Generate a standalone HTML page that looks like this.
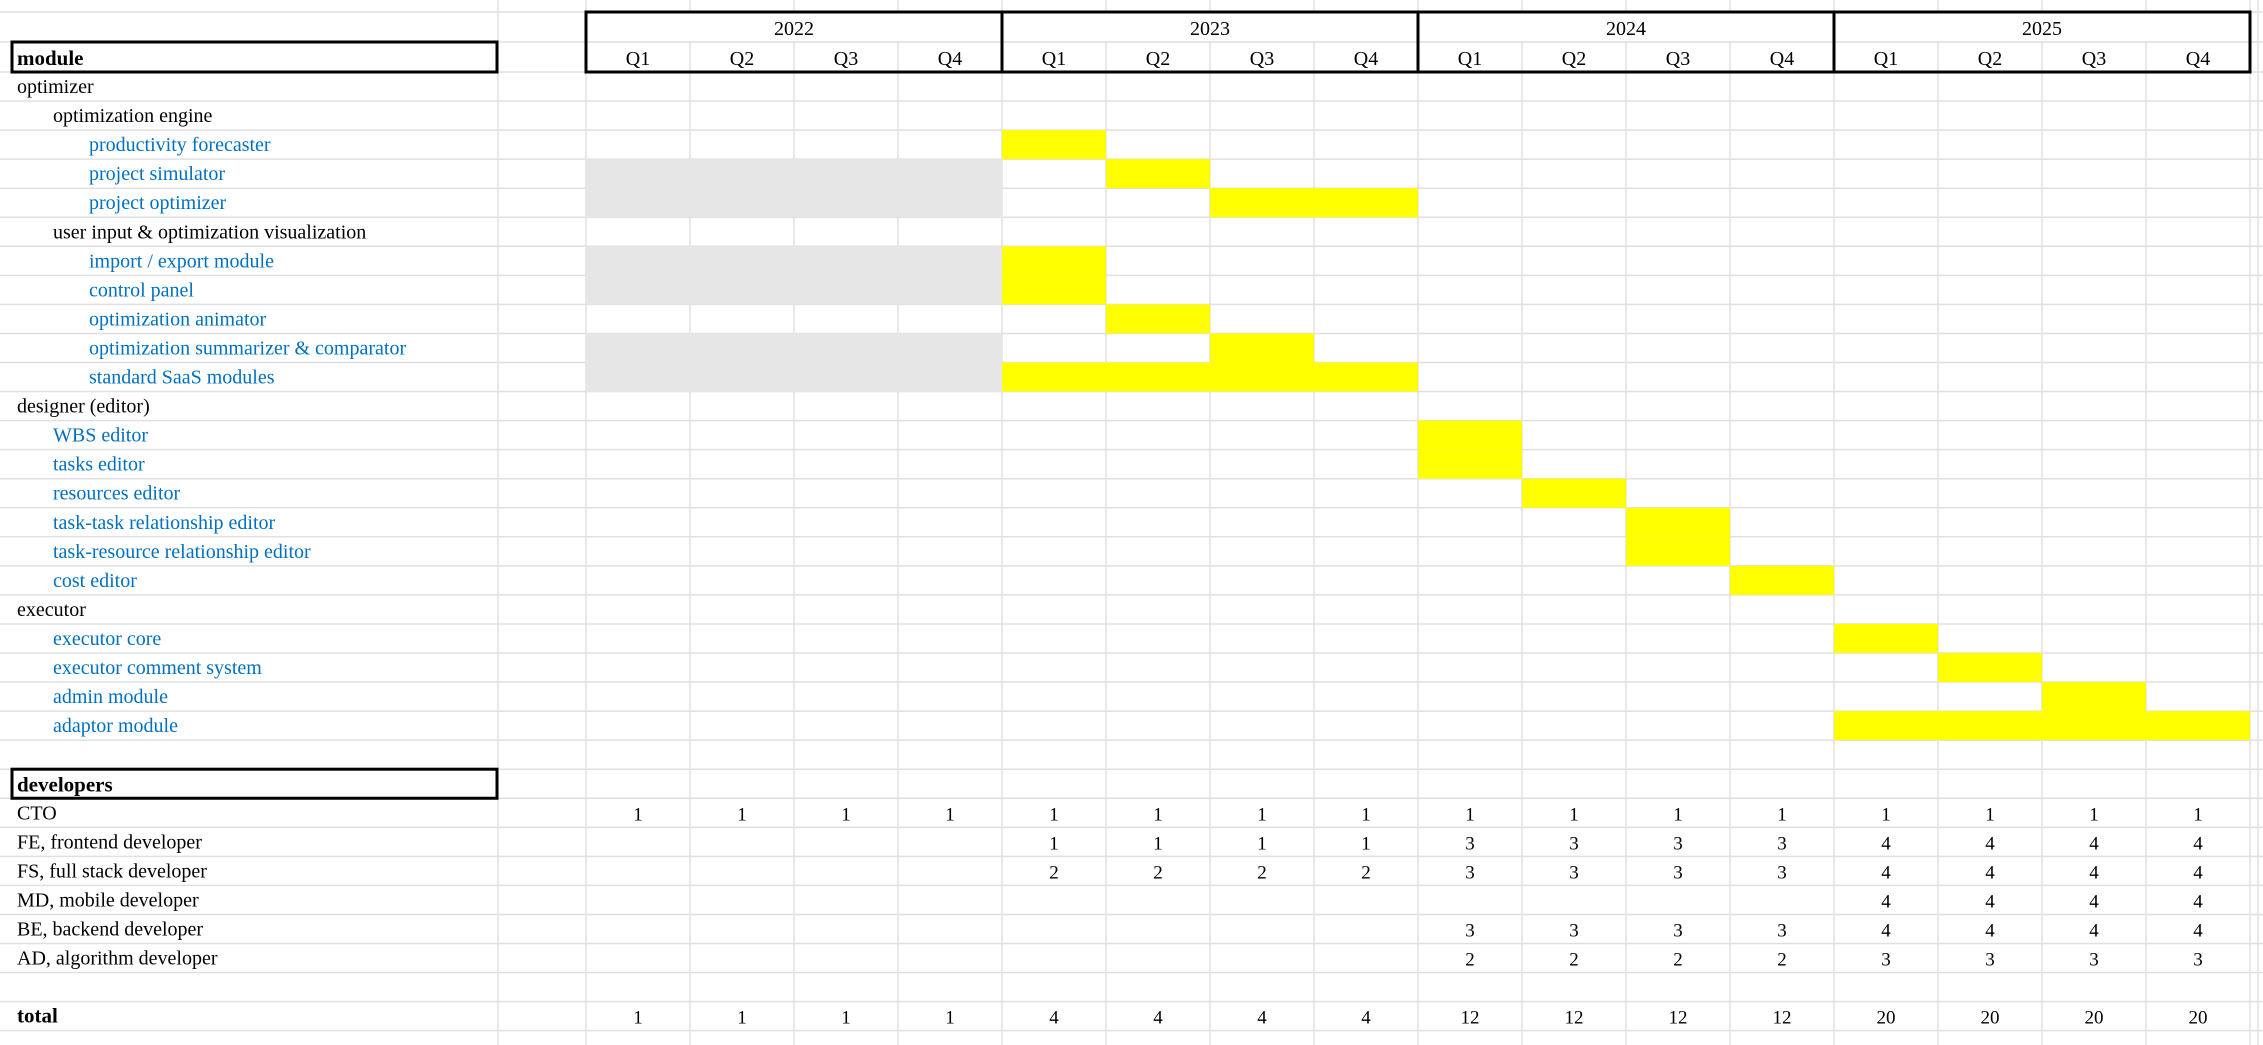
<!DOCTYPE html>
<html><head><meta charset="utf-8">
<style>
html,body{margin:0;padding:0;background:#fff;}
svg{display:block;font-family:"Liberation Serif",serif;}
</style></head>
<body>
<svg id="sheet" width="2263" height="1045" viewBox="0 0 2263 1045" xmlns="http://www.w3.org/2000/svg"></svg>
<script>
const years = ["2022","2023","2024","2025"];
const quarters = ["Q1","Q2","Q3","Q4"];
const moduleLabels = ["optimizer","optimization engine","productivity forecaster","project simulator","project optimizer","user input & optimization visualization","import / export module","control panel","optimization animator","optimization summarizer & comparator","standard SaaS modules","designer (editor)","WBS editor","tasks editor","resources editor","task-task relationship editor","task-resource relationship editor","cost editor","executor","executor core","executor comment system","admin module","adaptor module"];
const moduleLevels = [0,1,2,2,2,1,2,2,2,2,2,0,1,1,1,1,1,1,0,1,1,1,1];
const moduleStart = [null,null,4,5,6,null,4,4,5,6,4,null,8,8,9,10,10,11,null,12,13,14,12];
const moduleEnd   = [null,null,4,5,7,null,4,4,5,6,7,null,8,8,9,10,10,11,null,12,13,14,15];
const blockedRows = [3,4,6,7,9,10];
const devLabels = ["CTO","FE, frontend developer","FS, full stack developer","MD, mobile developer","BE, backend developer","AD, algorithm developer"];
const devCTO = [1,1,1,1,1,1,1,1,1,1,1,1,1,1,1,1];
const devFE = [null,null,null,null,1,1,1,1,3,3,3,3,4,4,4,4];
const devFS = [null,null,null,null,2,2,2,2,3,3,3,3,4,4,4,4];
const devMD = [null,null,null,null,null,null,null,null,null,null,null,null,4,4,4,4];
const devBE = [null,null,null,null,null,null,null,null,3,3,3,3,4,4,4,4];
const devAD = [null,null,null,null,null,null,null,null,2,2,2,2,3,3,3,3];
const totals = [1,1,1,1,4,4,4,4,12,12,12,12,20,20,20,20];

const NS="http://www.w3.org/2000/svg";
const svg=document.getElementById('sheet');
const X0=586, QW=(2250-586)/16, Y0=72, RH=29.05, HT=12;
const qx=i=>X0+i*QW;
const ry=r=>Y0+r*RH;
function mk(tag,attrs,parent){const e=document.createElementNS(NS,tag);for(const k in attrs)e.setAttribute(k,attrs[k]);(parent||svg).appendChild(e);return e;}

// grid
const grid=mk('g',{});


for(let r=-2;r<=34;r++){const y=r===-2?HT:(r===-1?42:ry(r));mk('line',{x1:0,x2:2263,y1:y,y2:y,stroke:'#e0e0e0','stroke-width':1.5},grid);}
const vx=[498];for(let i=0;i<=16;i++)vx.push(qx(i));vx.push(2258);
vx.forEach(x=>mk('line',{x1:x,x2:x,y1:0,y2:1045,stroke:'#e0e0e0','stroke-width':1.5},grid));

// year row background (no inner gridlines)
mk('rect',{x:X0,y:HT,width:QW*16,height:42-HT,fill:'#fff'});
mk('line',{x1:X0,x2:X0+QW*16,y1:42,y2:42,stroke:'#e0e0e0','stroke-width':1.5});

// gray blocked cells
blockedRows.forEach(r=>{
  const g=mk('rect',{x:qx(0),y:ry(r),width:QW*4,height:RH,fill:'#e6e6e6'});
  
  
});
// yellow bars
moduleLabels.forEach((lab,r)=>{
  if(moduleStart[r]===null)return;
  const b=mk('rect',{x:qx(moduleStart[r]),y:ry(r),width:QW*(moduleEnd[r]-moduleStart[r]+1),height:RH,fill:'#ffff00'});
  
  
});

// header box
const hb=mk('rect',{x:X0,y:HT,width:QW*16,height:Y0-HT,fill:'none',stroke:'#000','stroke-width':3});


years.forEach((yr,i)=>{
  mk('line',{x1:qx(i*4),x2:qx(i*4),y1:HT,y2:Y0,stroke:'#000','stroke-width':3});
  const t=mk('text',{x:qx(i*4+2),y:35,'text-anchor':'middle','font-size':20,fill:'#000'});
  t.textContent=yr;
  
  
  quarters.forEach((q,j)=>{
    const tq=mk('text',{x:qx(i*4+j+0.5),y:65,'text-anchor':'middle','font-size':20,fill:'#000'});
    tq.textContent=q;
    
    
  });
});

// section boxes
function sectionBox(label,y0,y1,name){
  const r=mk('rect',{x:12,y:y0,width:485,height:y1-y0,fill:'none',stroke:'#000','stroke-width':3});
  
  
  const t=mk('text',{x:17,y:y1-7,'font-size':21,'font-weight':'bold',fill:'#000'});
  t.textContent=label;
  
  
}
sectionBox('module',42,72,'module');
sectionBox('developers',ry(24),ry(25),'developers');

// module labels
const indent=[17,53,89];
moduleLabels.forEach((lab,r)=>{
  const t=mk('text',{x:indent[moduleLevels[r]],y:ry(r)+21,'font-size':20,fill:moduleLevels[r]===2||(r>11&&moduleLevels[r]===1)?'#0070c0':'#000'});
  t.textContent=lab;
  
  
});

// developers
const devSeries=[devCTO,devFE,devFS,devMD,devBE,devAD];
devLabels.forEach((lab,k)=>{
  const r=25+k;
  const t=mk('text',{x:17,y:ry(r)+21,'font-size':20,fill:'#000'});
  t.textContent=lab;
  
  
  devSeries[k].forEach((v,i)=>{
    if(v===null)return;
    const n=mk('text',{x:qx(i+0.5),y:ry(r)+22,'text-anchor':'middle','font-size':19,fill:'#000'});
    n.textContent=v;
    
    
  });
});
const tl=mk('text',{x:17,y:ry(32)+21,'font-size':21,'font-weight':'bold',fill:'#000'});
tl.textContent='total';


totals.forEach((v,i)=>{
  const n=mk('text',{x:qx(i+0.5),y:ry(32)+22,'text-anchor':'middle','font-size':19,fill:'#000'});
  n.textContent=v;
  
  
});
</script>
</body></html>
